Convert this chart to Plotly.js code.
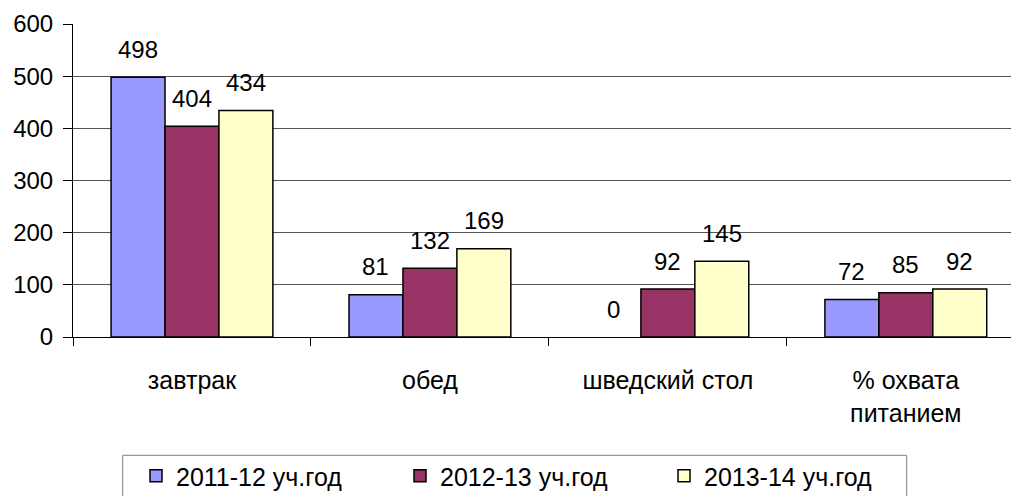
<!DOCTYPE html>
<html><head><meta charset="utf-8">
<script src="https://cdn.plot.ly/plotly-3.0.1.min.js"></script>
<style>html,body{margin:0;padding:0;background:#fff}#chart{width:1011px;height:496px}</style>
</head><body><div id="chart"></div>
<script>
const categories = ['завтрак', 'обед', 'шведский стол', '% охвата<br>питанием'];
const seriesNames = ['2011-12 уч.год', '2012-13 уч.год', '2013-14 уч.год'];
const s2011 = [498, 81, 0, 72];
const s2012 = [404, 132, 92, 85];
const s2013 = [434, 169, 145, 92];
const yTicks = [0, 100, 200, 300, 400, 500, 600];

const colors = ['#9999FF', '#993366', '#FFFFCC'];
const allSeries = [s2011, s2012, s2013];
const FONT = 'Liberation Sans, Arial, sans-serif';
const NUM = 24, TXT = 25;

const traces = allSeries.map((vals, i) => ({
  type: 'bar', name: seriesNames[i], x: categories, y: vals,
  marker: {color: colors[i], line: {color: '#000', width: vals.map(v => v === 0 ? 0 : 1.5)}},
  hoverinfo: 'skip'
}));

// data labels placed above each bar
const barShift = [-54, 0, 54];
const annotations = [];
allSeries.forEach((vals, i) => {
  vals.forEach((v, j) => {
    annotations.push({
      x: categories[j], y: v, xref: 'x', yref: 'y', text: String(v),
      showarrow: false, xshift: barShift[i], yshift: 28,
      font: {family: FONT, size: NUM, color: '#000'}
    });
  });
});

// plot area: x 73..1011, y 24..337
const px = v => (v - 73) / 938;
const py = v => (337 - v) / 313;

const layout = {
  width: 1011, height: 496,
  margin: {l: 73, r: 0, t: 24, b: 159},
  paper_bgcolor: '#fff', plot_bgcolor: '#fff',
  barmode: 'group', bargap: 0.32, bargroupgap: 0,
  font: {family: FONT, size: TXT, color: '#000'},
  showlegend: true,
  legend: {
    orientation: 'h', xref: 'container', yref: 'container',
    x: 136/1011, xanchor: 'left', y: 1 - 453/496, yanchor: 'top',
    borderwidth: 0, bgcolor: 'rgba(0,0,0,0)',
    font: {family: FONT, size: TXT, color: '#000'},
    itemwidth: 30, entrywidth: 219, traceorder: 'normal'
  },
  shapes: [{
    type: 'rect', xref: 'paper', yref: 'paper',
    x0: px(122.7), x1: px(906.7), y0: py(455.3), y1: py(505),
    line: {color: '#808080', width: 1}, fillcolor: 'rgba(0,0,0,0)', layer: 'below'
  }],
  xaxis: {
    type: 'category', range: [-0.5, 3.442], tickson: 'boundaries',
    ticks: 'outside', ticklen: 8, tickcolor: '#000',
    showline: true, linecolor: '#000', linewidth: 1,
    showgrid: false, ticklabelstandoff: 21,
    tickfont: {family: FONT, size: TXT, color: '#000'},
    fixedrange: true
  },
  yaxis: {
    range: [0, 600], tickvals: yTicks, ticktext: yTicks.map(String),
    ticks: 'outside', ticklen: 9, tickcolor: '#000',
    showline: true, linecolor: '#000', linewidth: 1,
    showgrid: true, gridcolor: '#555', gridwidth: 1,
    zeroline: false, ticklabelstandoff: 5,
    tickfont: {family: FONT, size: NUM, color: '#000'},
    fixedrange: true
  },
  annotations: annotations
};

Plotly.newPlot('chart', traces, layout, {displayModeBar: false, staticPlot: true});
</script></body></html>
